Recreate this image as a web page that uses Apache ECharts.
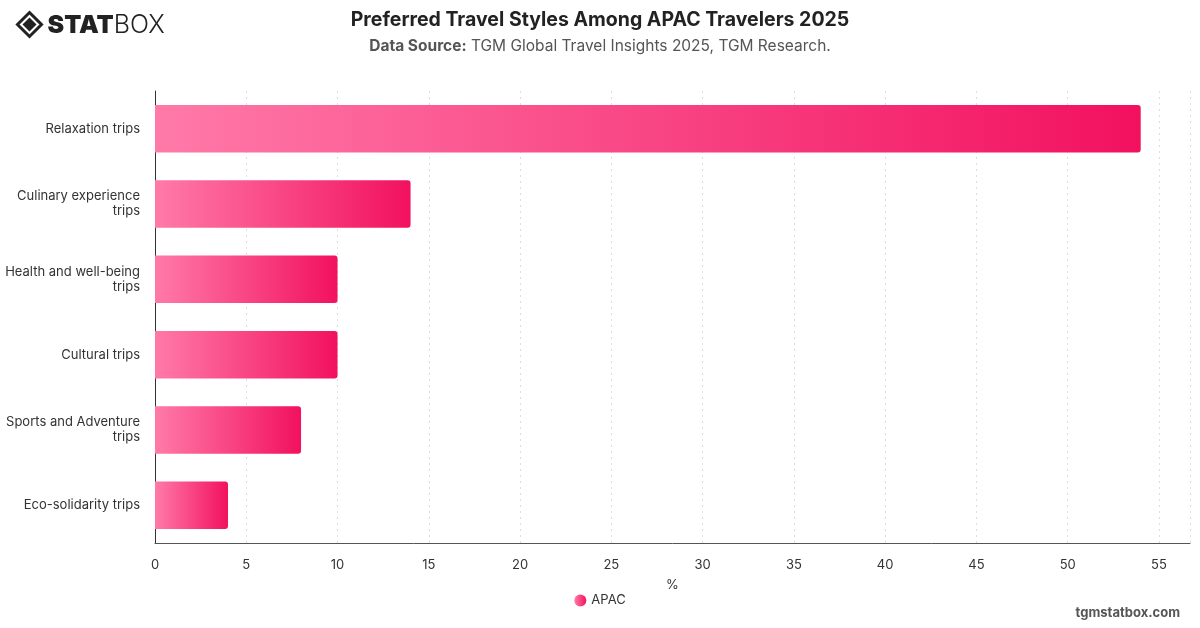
<!DOCTYPE html>
<html>
<head>
<meta charset="utf-8">
<script src="https://cdn.jsdelivr.net/npm/echarts@6/dist/echarts.min.js"></script>
<style>
  html, body { margin: 0; padding: 0; background: #fff; }
  #chart { width: 1200px; height: 628px; }
</style>
</head>
<body>
<div id="chart"></div>
<script>
// data
const categories = [
  'Relaxation trips',
  'Culinary experience trips',
  'Health and well-being trips',
  'Cultural trips',
  'Sports and Adventure trips',
  'Eco-solidarity trips'
];
const apacValues = [54, 14, 10, 10, 8, 4];
const seriesName = 'APAC';

const myChart = echarts.init(document.getElementById('chart'));
const font = 'Inter, "Noto Sans", sans-serif';

// pink gradient, light on the left, dark on the right
const barGradient = new echarts.graphic.LinearGradient(0, 0, 1, 0, [
  { offset: 0, color: '#ff7aa8' },
  { offset: 1, color: '#f2115f' }
]);

// long labels go on two lines, broken at the last space
function wrapLabel(value) {
  if (value.length <= 20) return value;
  const i = value.lastIndexOf(' ');
  return value.slice(0, i) + '\n' + value.slice(i + 1);
}

myChart.setOption({
  textStyle: { fontFamily: font },
  title: {
    text: 'Preferred Travel Styles Among APAC Travelers 2025',
    subtext: '{b|Data Source:} TGM Global Travel Insights 2025, TGM Research.',
    left: 'center',
    top: 5,
    itemGap: 8,
    textStyle: { fontSize: 19.5, fontWeight: 'bold', color: '#222', fontFamily: font },
    subtextStyle: {
      fontSize: 15.5,
      color: '#555',
      fontFamily: font,
      rich: { b: { fontSize: 15.5, fontWeight: 'bold', color: '#555', fontFamily: font } }
    }
  },
  grid: { left: 155, right: 10, top: 91, bottom: 85 },
  legend: {
    bottom: 16,
    left: 'center',
    data: [seriesName],
    icon: 'circle',
    itemWidth: 12,
    itemHeight: 12,
    textStyle: { fontSize: 13, color: '#333' }
  },
  xAxis: {
    type: 'value',
    min: 0,
    max: 56.7,
    interval: 5,
    name: '%',
    nameLocation: 'middle',
    nameGap: 36,
    nameTextStyle: { fontSize: 13, color: '#333' },
    axisLine: { show: true, lineStyle: { color: '#555', width: 1 } },
    axisTick: { show: false },
    axisLabel: { fontSize: 13, color: '#333', margin: 16, showMaxLabel: false },
    splitLine: { show: true, lineStyle: { color: '#ddd', type: [2, 4] } }
  },
  yAxis: {
    type: 'category',
    inverse: true,
    data: categories,
    axisLine: { show: true, lineStyle: { color: '#333', width: 1 } },
    axisTick: { show: false },
    axisLabel: {
      fontSize: 13,
      color: '#333',
      margin: 15,
      lineHeight: 15,
      align: 'right',
      formatter: wrapLabel
    },
    splitLine: { show: false }
  },
  series: [
    {
      name: seriesName,
      type: 'bar',
      data: apacValues,
      barCategoryGap: '37%',
      itemStyle: { color: barGradient, borderRadius: [0, 3, 3, 0] }
    }
  ],
  graphic: [
    // logo
    {
      type: 'group',
      left: 15,
      top: 10,
      children: [
        {
          type: 'polygon',
          shape: { points: [[12, 0], [24, 12], [12, 24], [0, 12]] },
          style: { fill: 'none', stroke: '#222', lineWidth: 3 }
        },
        {
          type: 'polygon',
          shape: { points: [[12, 5], [19, 12], [12, 19], [5, 12]] },
          style: { fill: '#222' }
        },
        {
          type: 'text',
          left: 30,
          top: 0,
          style: {
            text: '{s|STAT}{b|BOX}',
            rich: {
              s: { fontSize: 25, fontWeight: 900, fill: '#222', fontFamily: font },
              b: { fontSize: 25, fontWeight: 300, fill: '#222', fontFamily: font }
            }
          }
        }
      ]
    },
    // watermark
    {
      type: 'text',
      right: 20,
      bottom: 8,
      style: {
        text: 'tgmstatbox.com',
        fontSize: 13,
        fontWeight: 'bold',
        fill: '#555',
        fontFamily: font
      }
    }
  ]
});
</script>
</body>
</html>
